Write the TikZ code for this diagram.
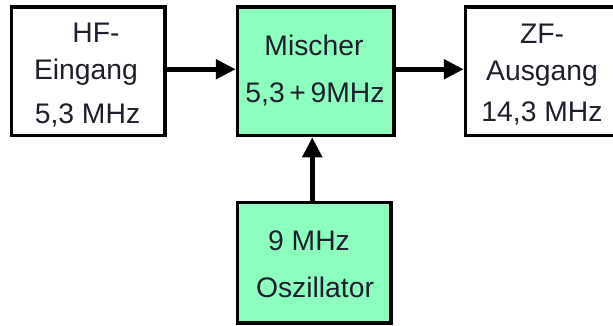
\documentclass[tikz,border=0pt]{standalone}
\usepackage{fontspec}
\setmainfont{Liberation Sans}
\usetikzlibrary{arrows.meta}
\definecolor{boxgreen}{RGB}{140,255,192}
\definecolor{txt}{RGB}{30,30,45}
\tikzset{
  blk/.style={draw=black, line width=3.5pt, inner sep=0pt, minimum height=128.5pt},
  lbl/.style={anchor=base, inner sep=0pt, text=txt, font=\fontsize{28.3}{28.3}\selectfont},
  conn/.style={line width=5.5pt, -{Triangle[length=20pt,width=19pt]}}
}
\begin{document}
\begin{tikzpicture}[x=1pt,y=-1pt]
\useasboundingbox[fill=white] (0,0) rectangle (613,325);
\node[blk, fill=white, minimum width=153.3pt] (hf) at (88.3,71.25) {};
\node[blk, fill=boxgreen, minimum width=156.5pt] (mix) at (315.75,71.25) {};
\node[blk, fill=white, minimum width=154.5pt] (zf) at (542.75,71.25) {};
\node[blk, fill=boxgreen, minimum width=153.5pt, minimum height=120.5pt] (osc) at (314.25,262.75) {};
% labels
\node[lbl] (hf1) at (96,42) {HF-};
\node[lbl] (hf2) at (86,79) {Eingang};
\node[lbl] (hf3) at (87.5,123) {5,3 MHz};
\node[lbl] (mx1) at (314,55) {Mischer};
\node[lbl] (mx2) at (315,102) {5,3\,+\,9MHz};
\node[lbl] (zf1) at (542,43) {ZF-};
\node[lbl] (zf2) at (542,80) {Ausgang};
\node[lbl] (zf3) at (542,121) {14,3 MHz};
\node[lbl] (os1) at (309,250) {9 MHz};
\node[lbl] (os2) at (315,297) {Oszillator};
% connectors
\draw[conn] ([yshift=2pt]hf.east) -- ([yshift=2pt]mix.west);
\draw[conn] ([yshift=2pt]mix.east) -- ([yshift=2pt]zf.west);
\draw[conn] ([xshift=-2pt]osc.north) -- ([xshift=-2pt]osc.north |- mix.south);
\end{tikzpicture}
\end{document}
